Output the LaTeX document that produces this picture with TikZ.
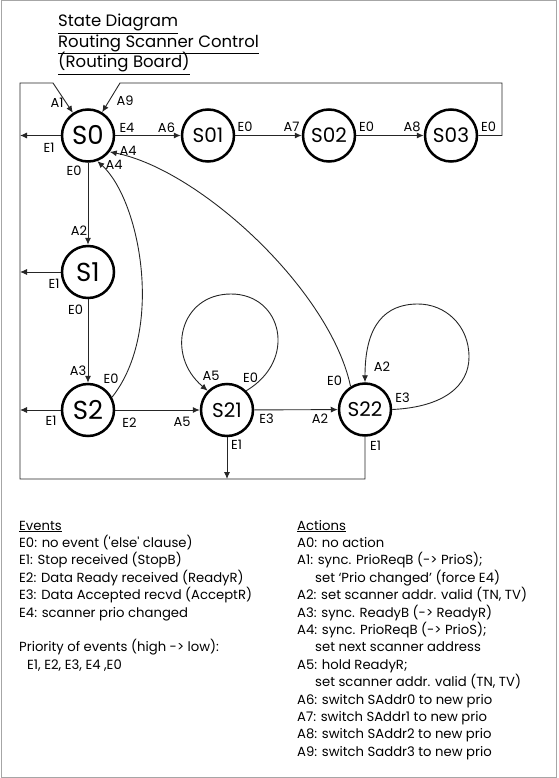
\documentclass[tikz,border=0pt]{standalone}
\usepackage{fontspec}
\setmainfont{Poppins}
\usetikzlibrary{arrows.meta}
\begin{document}
\begin{tikzpicture}[x=1pt,y=-1pt,
  state/.style={circle,draw,line width=2.5pt,minimum size=52pt,inner sep=0pt,font=\fontsize{26}{26}\selectfont},
  sstate/.style={state,font=\fontsize{20}{20}\selectfont},
  lab/.style={inner sep=0pt,font=\fontsize{13}{13}\selectfont},
  conn/.style={line width=0.9pt,black!85},
  arr/.style={conn,-{Latex[length=7pt,width=6pt]}},
  txt/.style={anchor=base west,inner sep=0pt,font=\fontsize{13.2}{15}\selectfont},
  ttl/.style={anchor=base west,inner sep=0pt,font=\fontsize{16.5}{19}\selectfont}]
\useasboundingbox (0,0) rectangle (558,778);
\draw[gray!70,line width=1.2pt] (1.2,0.6) rectangle (556.5,777.4);

% title
\node[ttl] (t1) at (58,27) {\underline{State Diagram}};
\node[ttl] (t2) at (58,47.5) {\underline{Routing Scanner Control}};
\node[ttl] (t3) at (58,68) {\underline{(Routing Board)}};

% states
\node[state] (S0) at (88,135.5) {S0};
\node[sstate] (S01) at (208,135.5) {S01};
\node[sstate] (S02) at (329,135.5) {S02};
\node[sstate] (S03) at (451,135.5) {S03};
\node[state] (S1) at (88,272) {S1};
\node[state] (S2) at (88,410) {S2};
\node[sstate] (S21) at (227,410) {S21};
\node[sstate] (S22) at (365,409.5) {S22};

% frame coordinates
\coordinate (TL) at (20,83);
\coordinate (T1) at (53,83);
\coordinate (T9) at (120,83);
\coordinate (R2) at (502,83);
\coordinate (R1) at (502,135.5);
\coordinate (BL) at (20,479);
\coordinate (B22) at (365,479);
\coordinate (B21) at (227,479);
\coordinate (L0) at (20,135.5);
\coordinate (L1) at (20,272);
\coordinate (L2) at (20,410);
\coordinate (P21) at (231,294);
\coordinate (P22a) at (469,357);
\coordinate (P22b) at (418,304);

% straight connectors
\draw[arr] (S0) -- (S01);
\draw[arr] (S01) -- (S02);
\draw[arr] (S02) -- (S03);
\draw[arr] (S03.east) -- (R1) -- (R2) -- (T9) -- (S0);
\draw[arr] (S22.south) -- (B22) -- (BL) -- (TL) -- (T1) -- (S0);
\draw[arr] (S21.south) -- (B21);
\draw[arr] (S0.west) -- (L0);
\draw[arr] (S1.west) -- (L1);
\draw[arr] (S2.west) -- (L2);
\draw[arr] (S0) -- (S1);
\draw[arr] (S1) -- (S2);
\draw[arr] (S2) -- (S21);
\draw[arr] (S21) -- (S22);

% curved connectors
\draw[arr] (S2.28) .. controls (165,330) and (140,200) .. (S0.-70);
\draw[arr] (S22.122) .. controls (330,290) and (200,170) .. (S0.-37);
\draw[arr] (S21.45) .. controls (298,360) and (282,294) .. (P21)
  .. controls (180,294) and (165,355) .. (S21.135);
\draw[arr] (S22.east) .. controls (445,407) and (469,385) .. (P22a)
  .. controls (469,325) and (445,304) .. (P22b)
  .. controls (385,304) and (365,325) .. (S22.north);

% labels
\node[lab] (la1) at (57,103) {A1};
\node[lab] (la9) at (125,101) {A9};
\node[lab] (le4) at (127,128) {E4};
\node[lab] (le1a) at (49,148) {E1};
\node[lab] (la4a) at (128,151) {A4};
\node[lab] (la4b) at (114,165) {A4};
\node[lab] (le0a) at (74,171) {E0};
\node[lab] (la6) at (166.5,128) {A6};
\node[lab] (le0b) at (245,127) {E0};
\node[lab] (la7) at (291.5,127) {A7};
\node[lab] (le0c) at (366.5,127) {E0};
\node[lab] (la8) at (412,127) {A8};
\node[lab] (le0d) at (488.5,127) {E0};
\node[lab] (la2a) at (79,231) {A2};
\node[lab] (le1b) at (54,284) {E1};
\node[lab] (le0e) at (75.5,310) {E0};
\node[lab] (la3) at (78,371) {A3};
\node[lab] (le0f) at (111,379) {E0};
\node[lab] (le1c) at (51,421) {E1};
\node[lab] (le2) at (129.5,423) {E2};
\node[lab] (la5a) at (182,422) {A5};
\node[lab] (la5b) at (211,376) {A5};
\node[lab] (le0g) at (250.5,378) {E0};
\node[lab] (le3a) at (266.5,419) {E3};
\node[lab] (le1d) at (236.5,445) {E1};
\node[lab] (la2b) at (320,419) {A2};
\node[lab] (le0h) at (334.5,381) {E0};
\node[lab] (la2c) at (382,367) {A2};
\node[lab] (le3b) at (402.5,398) {E3};
\node[lab] (le1e) at (375.5,446) {E1};

% events legend
\node[txt] (ev0) at (19,530) {\underline{Events}};
\node[txt] (ev1) at (19,547.4) {E0: no event (\textquotesingle else\textquotesingle\ clause)};
\node[txt] (ev2) at (19,564.8) {E1: Stop received (StopB)};
\node[txt] (ev3) at (19,582.2) {E2: Data Ready received (ReadyR)};
\node[txt] (ev4) at (19,599.6) {E3: Data Accepted recvd (AcceptR)};
\node[txt] (ev5) at (19,617) {E4: scanner prio changed};
\node[txt] (ev6) at (19,651.8) {Priority of events (high -> low):};
\node[txt] (ev7) at (27,669.2) {E1, E2, E3, E4 ,E0};

% actions legend
\node[txt] (ac0) at (297,530) {\underline{Actions}};
\node[txt] (ac1) at (297,547.4) {A0: no action};
\node[txt] (ac2) at (297,564.8) {A1: sync. PrioReqB (-> PrioS);};
\node[txt] (ac3) at (315,582.2) {set ‘Prio changed’ (force E4)};
\node[txt] (ac4) at (297,599.6) {A2: set scanner addr. valid (TN, TV)};
\node[txt] (ac5) at (297,617) {A3: sync. ReadyB (-> ReadyR)};
\node[txt] (ac6) at (297,634.4) {A4: sync. PrioReqB (-> PrioS);};
\node[txt] (ac7) at (315,651.8) {set next scanner address};
\node[txt] (ac8) at (297,669.2) {A5: hold ReadyR;};
\node[txt] (ac9) at (315,686.6) {set scanner addr. valid (TN, TV)};
\node[txt] (ac10) at (297,704) {A6: switch SAddr0 to new prio};
\node[txt] (ac11) at (297,721.4) {A7: switch SAddr1 to new prio};
\node[txt] (ac12) at (297,738.8) {A8: switch SAddr2 to new prio};
\node[txt] (ac13) at (297,756.2) {A9: switch Saddr3 to new prio};
\end{tikzpicture}
\end{document}
